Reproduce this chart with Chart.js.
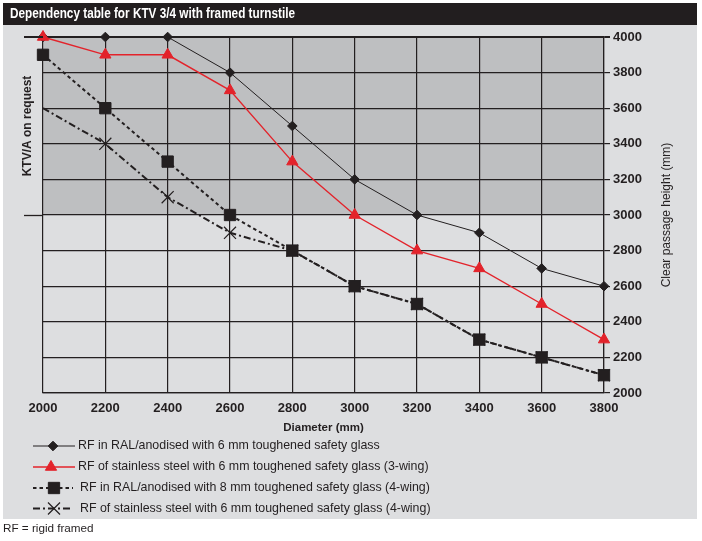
<!DOCTYPE html>
<html>
<head>
<meta charset="utf-8">
<title>Dependency table for KTV 3/4 with framed turnstile</title>
<script src="https://cdn.jsdelivr.net/npm/chart.js@4.4.1/dist/chart.umd.min.js"></script>
<style>
  html, body { margin: 0; padding: 0; background: #fff; }
  #wrap { position: relative; width: 702px; height: 541px; }
</style>
</head>
<body>
<div id="wrap"><canvas id="ktvChart" width="702" height="541"></canvas></div>
<script>
// Texts
const CHART_TITLE = 'Dependency table for KTV 3/4 with framed turnstile';
const LEFT_NOTE = 'KTV/A on request';
const X_TITLE = 'Diameter (mm)';
const Y_TITLE = 'Clear passage height (mm)';
const FOOTNOTE = 'RF = rigid framed';

// Data (diameter -> clear passage height, mm)
const diameters = [2000, 2200, 2400, 2600, 2800, 3000, 3200, 3400, 3600, 3800];
const ralAnodised6 = [4000, 4000, 4000, 3800, 3500, 3200, 3000, 2900, 2700, 2600];
const stainless6Wing3 = [4000, 3900, 3900, 3700, 3300, 3000, 2800, 2700, 2500, 2300];
const ralAnodised8Wing4 = [3900, 3600, 3300, 3000, 2800, 2600, 2500, 2300, 2200, 2100];
const stainless6Wing4 = [3600, 3400, 3100, 2900, 2800, 2600, 2500, 2300, 2200, 2100];
const seriesLabels = [
  'RF in RAL/anodised with 6 mm toughened safety glass',
  'RF of stainless steel with 6 mm toughened safety glass (3-wing)',
  'RF in RAL/anodised with 8 mm toughened safety glass (4-wing)',
  'RF of stainless steel with 6 mm toughened safety glass (4-wing)'
];
const xMin = 2000, xMax = 3800, xStep = 200;
const yMin = 2000, yMax = 4000, yStep = 200;
const KTVA_FROM = 3000; // heights above this are "KTV/A on request"

// Colours
const INK = '#231f20';
const RED = '#e3232b';
const PANEL = '#dddee0';
const SHADE = '#bebfc1';

const toPoints = arr => diameters.map((d, i) => ({ x: d, y: arr[i] }));

// Backgrounds, title bar, notes, legend
const decorPlugin = {
  id: 'decor',
  beforeDraw(chart) {
    const { ctx, chartArea: a, scales: { y } } = chart;
    ctx.save();
    ctx.fillStyle = PANEL;
    ctx.fillRect(3, 25, 694, 494);
    ctx.fillStyle = '#221e1f';
    ctx.fillRect(3, 3, 694, 22);
    // condensed bold title: squeeze to the width it has in the original
    ctx.fillStyle = '#fff';
    ctx.font = 'bold 14px "Liberation Sans", Arial, sans-serif';
    ctx.textBaseline = 'middle';
    const tw = ctx.measureText(CHART_TITLE).width;
    ctx.save();
    ctx.translate(10, 14.5);
    ctx.scale(285 / tw, 1);
    ctx.fillText(CHART_TITLE, 0, 0);
    ctx.restore();
    // shaded KTV/A zone
    const top = y.getPixelForValue(yMax), bot = y.getPixelForValue(KTVA_FROM);
    ctx.fillStyle = SHADE;
    ctx.fillRect(a.left, top, a.right - a.left, bot - top);
    ctx.restore();
  },
  afterDraw(chart) {
    const { ctx, chartArea: a, scales: { y } } = chart;
    ctx.save();
    // zone delimiters reaching to the left
    ctx.strokeStyle = INK;
    [[yMax, 2], [KTVA_FROM, 1.3]].forEach(([v, w]) => {
      const py = Math.round(y.getPixelForValue(v)) + (w === 2 ? 0 : 0.5);
      ctx.lineWidth = w;
      ctx.beginPath();
      ctx.moveTo(24, py);
      ctx.lineTo(a.left, py);
      ctx.stroke();
    });
    // left note
    ctx.fillStyle = INK;
    ctx.font = 'bold 12px "Liberation Sans", Arial, sans-serif';
    ctx.textAlign = 'center';
    ctx.textBaseline = 'middle';
    ctx.save();
    ctx.translate(28, (y.getPixelForValue(yMax) + y.getPixelForValue(KTVA_FROM)) / 2);
    ctx.rotate(-Math.PI / 2);
    ctx.fillText(LEFT_NOTE, 0, 0);
    ctx.restore();
    // right axis title (reads bottom to top)
    ctx.font = '12px "Liberation Sans", Arial, sans-serif';
    ctx.save();
    ctx.translate(667, 215);
    ctx.rotate(-Math.PI / 2);
    ctx.fillText(Y_TITLE, 0, 0);
    ctx.restore();
    // legend
    const rows = [446, 467, 488, 508.5];
    const markX = [53, 51, 54, 54];
    const textX = [78, 78, 80, 80];
    ctx.textAlign = 'left';
    ctx.font = '12.4px "Liberation Sans", Arial, sans-serif';
    chart.data.datasets.forEach((ds, i) => {
      const ly = rows[i];
      ctx.save();
      ctx.strokeStyle = ds.borderColor;
      ctx.lineWidth = ds.borderWidth;
      ctx.setLineDash(ds.borderDash || []);
      ctx.beginPath();
      ctx.moveTo(33, ly);
      ctx.lineTo(i < 2 ? 75 : 73, ly);
      ctx.stroke();
      ctx.setLineDash([]);
      ctx.fillStyle = ds.pointBackgroundColor;
      ctx.strokeStyle = ds.pointBorderColor;
      ctx.lineWidth = ds.pointBorderWidth;
      const r = Array.isArray(ds.pointRadius) ? ds.pointRadius[1] : ds.pointRadius;
      Chart.helpers.drawPoint(ctx, { pointStyle: ds.pointStyle, radius: r, borderWidth: ds.pointBorderWidth, rotation: 0 }, markX[i], ly);
      ctx.restore();
      ctx.fillStyle = INK;
      ctx.fillText(ds.label, textX[i], ly);
    });
    // footnote
    ctx.font = '11.7px "Liberation Sans", Arial, sans-serif';
    ctx.fillText(FOOTNOTE, 3, 529);
    ctx.restore();
  }
};

const tickFont = { family: '"Liberation Sans", Arial, sans-serif', size: 13, weight: 'bold' };
const plainNumber = v => String(v);

new Chart(document.getElementById('ktvChart'), {
  type: 'line',
  data: {
    datasets: [
      {
        label: seriesLabels[0],
        data: toPoints(ralAnodised6),
        order: 1,
        borderColor: INK, borderWidth: 1,
        pointStyle: 'rectRot', pointRadius: 4.8,
        pointBackgroundColor: INK, pointBorderColor: INK, pointBorderWidth: 1
      },
      {
        label: seriesLabels[1],
        data: toPoints(stainless6Wing3),
        order: 0,
        borderColor: RED, borderWidth: 1.4,
        pointStyle: 'triangle', pointRadius: 6.5,
        pointBackgroundColor: RED, pointBorderColor: RED, pointBorderWidth: 1
      },
      {
        label: seriesLabels[2],
        data: toPoints(ralAnodised8Wing4),
        order: 1,
        borderColor: INK, borderWidth: 2, borderDash: [3.5, 3],
        pointStyle: 'rect', pointRadius: 8,
        pointBackgroundColor: INK, pointBorderColor: INK, pointBorderWidth: 1
      },
      {
        label: seriesLabels[3],
        data: toPoints(stainless6Wing4),
        order: 1,
        borderColor: INK, borderWidth: 2, borderDash: [7, 3, 2, 3],
        pointStyle: 'crossRot', pointRadius: stainless6Wing4.map((v, i) => i === 0 ? 0 : 8.5),
        pointBackgroundColor: INK, pointBorderColor: INK, pointBorderWidth: 1.2
      }
    ]
  },
  options: {
    responsive: false,
    animation: false,
    events: [],
    layout: { padding: { left: 43, top: 37, right: 702 - 604 - 60, bottom: 541 - 393 - 45 } },
    elements: { line: { tension: 0 } },
    datasets: { line: { clip: false } },
    plugins: {
      legend: { display: false },
      tooltip: { enabled: false }
    },
    scales: {
      x: {
        type: 'linear',
        min: xMin, max: xMax,
        afterFit: s => { s.height = 45; },
        ticks: { stepSize: xStep, color: INK, font: tickFont, padding: 8, callback: plainNumber },
        grid: { color: INK, lineWidth: 1.2, drawTicks: false },
        border: { color: INK, width: 1.2 },
        title: {
          display: true, text: X_TITLE, color: INK,
          font: { family: '"Liberation Sans", Arial, sans-serif', size: 11.5, weight: 'bold' },
          padding: { top: 0, bottom: 3 }
        }
      },
      y: {
        position: 'right',
        min: yMin, max: yMax,
        afterFit: s => { s.width = 60; },
        ticks: { stepSize: yStep, color: INK, font: tickFont, padding: 3, callback: plainNumber },
        grid: {
          color: INK, tickColor: INK, tickLength: 6,
          lineWidth: c => (c.tick && c.tick.value === yMax ? 2 : 1.2)
        },
        border: { color: INK, width: 1.2 }
      }
    }
  },
  plugins: [decorPlugin]
});
</script>
</body>
</html>
